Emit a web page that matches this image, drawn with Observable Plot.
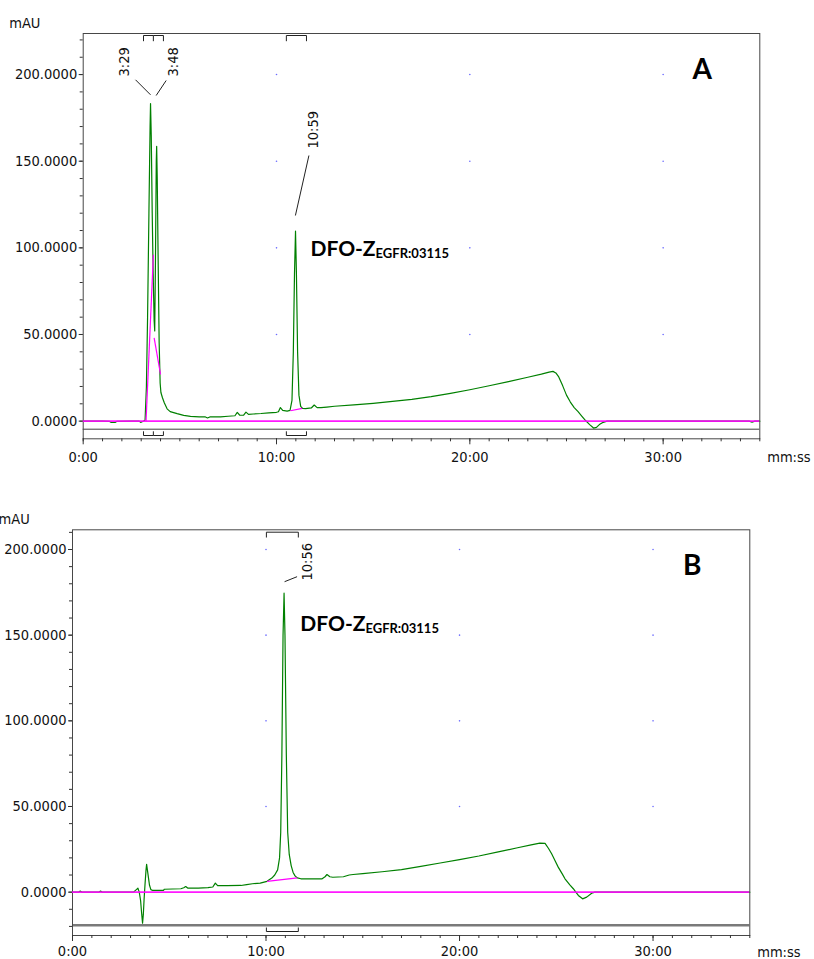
<!DOCTYPE html>
<html>
<head>
<meta charset="utf-8">
<script src="https://cdn.jsdelivr.net/npm/d3@7"></script>
<script src="https://cdn.jsdelivr.net/npm/@observablehq/plot@0.6"></script>
<style>
  body { margin: 0; background: #fff; }
  #page { position: relative; width: 814px; height: 959px; overflow: hidden; background: #fff; }
  #page svg { position: absolute; left: 0; }
</style>
</head>
<body>
<div id="page"></div>
<script>
// ---- Chromatogram A: retention time (min) and UV absorbance (mAU)
const timeA = [0, 0.5, 1.0, 1.35, 1.45, 1.65, 1.75, 2.5, 2.9, 2.97, 3.08, 3.2, 3.27, 3.33, 3.40, 3.46, 3.483,
  3.52, 3.57, 3.62, 3.67, 3.70, 3.74, 3.78, 3.80, 3.83, 3.88, 3.93, 3.98, 4.02, 4.10, 4.2, 4.34, 4.5, 4.86,
  5.2, 5.55, 6.0, 6.3, 6.43, 6.55, 7.1, 7.5, 7.85, 7.97, 8.1, 8.3, 8.42, 8.55, 8.8, 9.2, 9.6, 10.0, 10.1,
  10.2, 10.32, 10.55, 10.7, 10.8, 10.87, 10.93, 10.983, 11.03, 11.09, 11.16, 11.25, 11.35, 11.5, 11.8,
  11.95, 12.1, 12.3, 12.6, 13, 14, 15, 16, 17, 18, 19, 20, 21, 22, 23, 23.7, 24.1, 24.3, 24.45, 24.6, 24.8,
  25.0, 25.2, 25.4, 25.6, 25.8, 26.0, 26.2, 26.4, 26.55, 26.7, 26.9, 27.1, 28, 30, 32, 34.45, 34.6, 34.75, 35];
const mauA = [0, 0, 0, -0.1, -0.8, -0.8, -0.1, 0, 0, -0.7, -0.2, 0.5, 20, 60, 120, 170, 183.3,
  165, 120, 85, 58, 52, 95, 150, 158.6, 140, 90, 45, 22, 16.5, 13.5, 10.5, 7.1, 5.5, 4.3,
  3.3, 2.7, 2.5, 2.5, 1.8, 2.4, 2.4, 2.8, 3.1, 5.0, 3.4, 3.5, 5.2, 3.9, 4.1, 4.4, 4.8, 5.1, 5.4,
  7.8, 6.2, 5.8, 6.2, 12, 40, 85, 109.6, 85, 40, 15, 8.5, 7.3, 7.2, 7.6,
  9.3, 7.8, 7.8, 8.1, 8.6, 9.4, 10.3, 11.4, 12.6, 14.1, 16.0, 18.1, 20.4, 22.8, 25.3, 27.1, 28.3, 28.7, 27.8, 25.5, 20.5,
  15.0, 11.0, 7.8, 5.5, 2.8, 0.2, -2.0, -4.0, -3.6, -2.0, -0.7, 0, 0, 0, 0, 0, -0.6, 0, 0];

// ---- Chromatogram B
const timeB = [0, 0.3, 0.4, 0.5, 1.35, 1.45, 1.55, 3.15, 3.3, 3.38, 3.45, 3.52, 3.57, 3.62, 3.66, 3.70, 3.75,
  3.80, 3.83, 3.87, 3.93, 3.98, 4.05, 4.15, 4.7, 4.75, 5.6, 5.75, 5.85, 5.95, 6.5, 7.0, 7.25, 7.38, 7.5,
  8.0, 8.7, 9.0, 9.3, 9.7, 10.05, 10.3, 10.45, 10.6, 10.7, 10.76, 10.82, 10.88, 10.933, 10.98, 11.05,
  11.12, 11.2, 11.3, 11.4, 11.5, 11.62, 11.8, 12.9, 13.05, 13.15, 13.3, 13.45, 14.0, 14.3, 14.5, 15, 16,
  17, 18, 19, 20, 21, 22, 23, 23.7, 24.15, 24.42, 24.6, 24.76, 24.95, 25.1, 25.3, 25.45, 25.7, 25.88,
  26.0, 26.14, 26.36, 26.57, 26.83, 27.0, 35];
const mauB = [0, 0, 0.6, 0, 0, 0.6, 0, 0, 1.5, 2.3, 0, -5, -12, -18.1, -13, -4, 5,
  13, 16.2, 13, 8, 4, 1.5, 1.0, 1.0, 1.7, 2.0, 2.6, 3.3, 2.4, 2.4, 2.6, 3.0, 5.3, 3.8,
  3.8, 3.9, 4.4, 4.9, 5.3, 6.3, 8.2, 10, 13, 20, 35, 80, 150, 174.5, 150, 80,
  35, 22, 15.5, 11.5, 9.5, 8.3, 7.8, 7.8, 9, 10.3, 9, 8.7, 9.0, 10.0, 10.3, 10.8, 11.9,
  13.2, 15.0, 17.0, 19.0, 21.1, 23.5, 25.9, 27.6, 28.6, 28.5, 25.5, 22.4, 18.0, 14.6, 10.8, 7.8, 4.2, 2.0,
  0.2, -1.9, -3.9, -2.9, -0.6, 0, 0];

// ---- Integrated peaks (retention time in min, apex height in mAU)
const peakTimeA = [3.483, 3.8, 10.983];
const peakMauA = [183.3, 158.6, 109.6];
const peakTimeB = [10.933];
const peakMauB = [174.5];

// ---- Integration windows (min)
const winStartA = [3.12, 3.63, 10.51];
const winEndA = [3.63, 4.15, 11.55];
const winStartB = [10.02];
const winEndB = [11.67];

// ---- Peak baselines drawn under the peaks (start/end time and level)
const segT1A = [3.25, 3.67, 10.72];
const segV1A = [0, 48, 6.0];
const segT2A = [3.63, 4.0, 11.33];
const segV2A = [96, 27, 7.4];
const segT1B = [10.05];
const segV1B = [6.3];
const segT2B = [11.62];
const segV2B = [8.3];

// ---- Axis ticks and texts
const xMajorTicks = [0, 10, 20, 30];
const yMajorTicks = [0, 50, 100, 150, 200];
const yUnit = "mAU";
const xUnit = "mm:ss";
const compoundName = "DFO-Z";
const compoundSub = "EGFR:03115";
const panelNames = ["A", "B"];

// ---- Page layout (pixels)
const layoutA = {
  top: 0, height: 475, left: 82.7, right: 759.3, frameTop: 33, frameBottom: 438.3,
  yLo: -10.2, yHi: 223.7, innerLine: 428.7, innerColor: "#3c3c3c", innerWidth: 1,
  brTop: [2, 7.7], brBot: [3.3, 7.5], xPad: 6.5, unitDy: 23.5,
  nameOff: [14.9, 24.3],
  peaks: [
    {label: [-26, -27], lead: [[-15, -23.7], [0, -8.7]]},
    {label: [16.8, -69.8], lead: [[9.5, -65.8], [-0.5, -50.8]]},
    {label: [18.2, -82.7], lead: [[13.4, -75.7], [-0.1, -15.7]]}
  ]
};
const layoutB = {
  top: 480, height: 479, left: 72, right: 749.3, frameTop: 529.3, frameBottom: 935,
  yLo: -25.3, yHi: 211.5, innerLine: 924.7, innerColor: "#7a7a7a", innerWidth: 2.5,
  brTop: [2.4, 7.7], brBot: [4, 8], xPad: 4.5, unitDy: 21,
  nameOff: [16.2, 38.3],
  peaks: [
    {label: [22.9, -12.7], lead: [[0.5, -11.5], [13, -16.5]]}
  ]
};

const axisFont = "'DejaVu Sans Condensed', 'DejaVu Sans', sans-serif";
const axisSize = 14.5;
const labelFont = "Lato, 'Open Sans', sans-serif";

function mmss(t) {
  const s = Math.round(t * 60);
  return Math.floor(s / 60) + ":" + String(s % 60).padStart(2, "0");
}

function textWidth(s, font) {
  const ctx = document.createElement("canvas").getContext("2d");
  ctx.font = font;
  return ctx.measureText(s).width;
}

function drawPanel(p) {
  const L = p.layout;
  const marginTop = L.frameTop - L.top;
  const marginBottom = L.top + L.height - L.frameBottom;
  const pxMin = (L.right - L.left) / 35;
  const pxUnit = (L.frameBottom - L.frameTop) / (L.yHi - L.yLo);
  const tOff = (t, dx) => t + dx / pxMin;      // shift a time by dx pixels
  const vOff = (v, dy) => v - dy / pxUnit;     // shift a level by dy pixels
  const vAt = (py) => L.yHi - (py - L.frameTop) / pxUnit;

  const trace = p.time.map((t, i) => ({t, v: p.mau[i]}));
  const peaks = p.peakTime.map((t, i) => ({t, v: p.peakMau[i], ...L.peaks[i]}));
  const wins = p.winStart.map((s, i) => ({s, e: p.winEnd[i]}));
  const edges = Array.from(new Set(wins.flatMap(w => [w.s, w.e])));
  const segs = p.segT1.map((t1, i) => ({t1, v1: p.segV1[i], t2: p.segT2[i], v2: p.segV2[i]}));
  const grid = xMajorTicks.filter(x => x > 0).flatMap(x => yMajorTicks.filter(y => y > 0).map(y => ({x, y})));
  const yMinor = d3.range(-30, 240, 10).filter(y => y > L.yLo + 1 && y < L.yHi);
  const xMinor = d3.range(0, 36, 1);

  const topA = vAt(L.frameTop + L.brTop[0]), topB = vAt(L.frameTop + L.brTop[1]);
  const botA = vAt(L.frameBottom - L.brBot[0]), botB = vAt(L.frameBottom - L.brBot[1]);
  const inner = vAt(L.innerLine);

  const apex = peaks[peaks.length - 1];
  const nameFont = "bold 21px Lato";
  const nameW = textWidth(compoundName, nameFont);

  const svg = Plot.plot({
    width: 814,
    height: L.height,
    marginLeft: L.left,
    marginRight: 814 - L.right,
    marginTop,
    marginBottom,
    x: {domain: [0, 35]},
    y: {domain: [L.yLo, L.yHi]},
    style: {fontFamily: axisFont, fontSize: axisSize + "px", color: "#111", background: "#fff", overflow: "visible"},
    marks: [
      Plot.dot(grid, {x: "x", y: "y", r: 0.8, fill: "#6b6bff", stroke: null}),
      Plot.ruleY([inner], {stroke: L.innerColor, strokeWidth: L.innerWidth}),
      Plot.frame({stroke: "#474747"}),
      Plot.axisY({ticks: yMinor, tickSize: 3, tickFormat: () => "", label: null, stroke: "#333"}),
      Plot.axisY({ticks: yMajorTicks, tickSize: 4, tickPadding: 2, tickFormat: d => d.toFixed(4), label: null, stroke: "#333"}),
      Plot.axisX({ticks: xMinor, tickSize: 3, tickFormat: () => "", label: null, stroke: "#333"}),
      Plot.axisX({ticks: xMajorTicks, tickSize: 6, tickPadding: L.xPad, tickFormat: mmss, label: null, stroke: "#333"}),
      // integration window brackets, top and bottom
      Plot.link(wins, {x1: "s", x2: "e", y1: () => topA, y2: () => topA, stroke: "#222"}),
      Plot.link(edges, {x1: d => d, x2: d => d, y1: () => topA, y2: () => topB, stroke: "#222"}),
      Plot.link(wins, {x1: "s", x2: "e", y1: () => botA, y2: () => botA, stroke: "#222"}),
      Plot.link(edges, {x1: d => d, x2: d => d, y1: () => botA, y2: () => botB, stroke: "#222"}),
      // signal and baselines
      Plot.line(trace, {x: "t", y: "v", stroke: "#008000", strokeWidth: 1.2}),
      Plot.ruleY([0], {stroke: "#ff00ff", strokeWidth: 1.6, strokeOpacity: 0.9}),
      Plot.link(segs, {x1: "t1", y1: "v1", x2: "t2", y2: "v2", stroke: "#ff00ff", strokeWidth: 1.2}),
      // retention time labels with leaders
      Plot.link(peaks, {
        x1: d => tOff(d.t, d.lead[0][0]), y1: d => vOff(d.v, d.lead[0][1]),
        x2: d => tOff(d.t, d.lead[1][0]), y2: d => vOff(d.v, d.lead[1][1]),
        stroke: "#222", strokeWidth: 1
      }),
      Plot.text(peaks, {
        x: d => tOff(d.t, d.label[0]), y: d => vOff(d.v, d.label[1]),
        text: d => mmss(d.t), rotate: -90, textAnchor: "start", lineAnchor: "middle",
        fill: "#111", fontSize: axisSize
      }),
      // compound name with subscript
      Plot.text([compoundName], {
        x: () => tOff(apex.t, L.nameOff[0]), y: () => vOff(apex.v, L.nameOff[1]),
        text: d => d, textAnchor: "start", lineAnchor: "bottom",
        fontFamily: labelFont, fontWeight: "bold", fontSize: 21, fill: "#000"
      }),
      Plot.text([compoundSub], {
        x: () => tOff(apex.t, L.nameOff[0] + nameW), y: () => vOff(apex.v, L.nameOff[1] + 2),
        text: d => d, textAnchor: "start", lineAnchor: "bottom",
        fontFamily: labelFont, fontWeight: "bold", fontSize: 13, fill: "#000"
      }),
      // panel letter and units
      Plot.text([p.name], {
        frameAnchor: "top-right", dx: -57.5, dy: 45, text: d => d,
        textAnchor: "middle", lineAnchor: "bottom",
        fontFamily: labelFont, fontWeight: "bold", fontSize: 28, fill: "#000"
      }),
      Plot.text([yUnit], {
        frameAnchor: "top-left", dx: -74, dy: -6, text: d => d,
        textAnchor: "start", lineAnchor: "bottom", fill: "#111"
      }),
      Plot.text([xUnit], {
        frameAnchor: "bottom-right", dx: 7.4, dy: L.unitDy, text: d => d,
        textAnchor: "start", lineAnchor: "bottom", fill: "#111"
      })
    ]
  });
  svg.style.top = L.top + "px";
  svg.style.fontStretch = "condensed";
  document.getElementById("page").appendChild(svg);
}

drawPanel({
  name: panelNames[0], time: timeA, mau: mauA, peakTime: peakTimeA, peakMau: peakMauA,
  winStart: winStartA, winEnd: winEndA,
  segT1: segT1A, segV1: segV1A, segT2: segT2A, segV2: segV2A, layout: layoutA
});
drawPanel({
  name: panelNames[1], time: timeB, mau: mauB, peakTime: peakTimeB, peakMau: peakMauB,
  winStart: winStartB, winEnd: winEndB,
  segT1: segT1B, segV1: segV1B, segT2: segT2B, segV2: segV2B, layout: layoutB
});
</script>
</body>
</html>
